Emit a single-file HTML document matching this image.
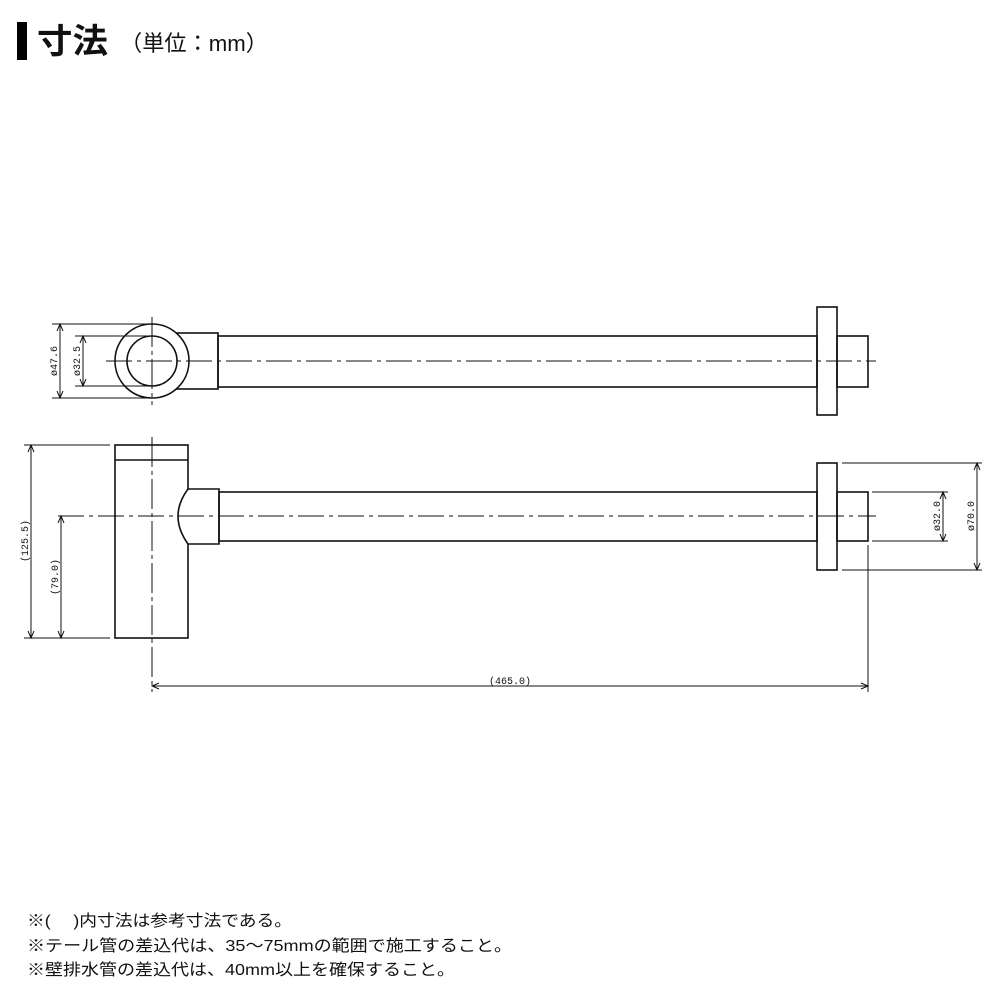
<!DOCTYPE html>
<html><head><meta charset="utf-8"><style>
html,body{margin:0;padding:0;background:#fff;width:1000px;height:1000px;overflow:hidden}
svg{display:block}
</style></head><body>
<svg width="1000" height="1000" viewBox="0 0 1000 1000" xmlns="http://www.w3.org/2000/svg">
<rect x="17" y="22" width="10" height="38" fill="#000"/>
<text x="37" y="53" font-family="'Liberation Sans','Noto Sans CJK JP',sans-serif" font-size="34" font-weight="bold" fill="#111" textLength="71" lengthAdjust="spacingAndGlyphs">寸法</text>
<text x="120" y="51" font-family="'Liberation Sans','Noto Sans CJK JP',sans-serif" font-size="22" fill="#111" textLength="148" lengthAdjust="spacingAndGlyphs">（単位：mm）</text>

<g fill="none" stroke="#111" stroke-width="1.6">
<rect x="175" y="333" width="43" height="56" fill="#fff"/>
<rect x="218" y="336" width="599" height="51"/>
<circle cx="152" cy="361" r="37" fill="#fff"/>
<circle cx="152" cy="361" r="25"/>
<rect x="817" y="307" width="20" height="108"/>
<rect x="837" y="336" width="31" height="51"/>
<rect x="115" y="445" width="73" height="193"/>
<line x1="115" y1="460" x2="188" y2="460"/>
<path d="M188 489 L219 489 L219 544 L188 544 Q168 516 188 489 Z" fill="#fff"/>
<rect x="219" y="492" width="598" height="49"/>
<rect x="817" y="463" width="20" height="107"/>
<rect x="837" y="492" width="31" height="49"/>
</g>

<g stroke="#111" stroke-width="1" fill="none">
<line x1="106" y1="361" x2="876" y2="361" stroke-dasharray="26,5,4,5"/>
<line x1="152" y1="317" x2="152" y2="405" stroke-dasharray="30,4,4,4"/>
<line x1="58" y1="516" x2="876" y2="516" stroke-dasharray="26,5,4,5"/>
<line x1="152" y1="437" x2="152" y2="692" stroke-dasharray="30,4,4,4"/>
<line x1="52" y1="324" x2="150" y2="324"/>
<line x1="52" y1="398" x2="150" y2="398"/>
<line x1="60" y1="324" x2="60" y2="398"/>
<line x1="75" y1="336" x2="150" y2="336"/>
<line x1="75" y1="386" x2="150" y2="386"/>
<line x1="83" y1="336" x2="83" y2="386"/>
<path d="M57 331 L60 324 L63 331 M57 391 L60 398 L63 391 M80 343 L83 336 L86 343 M80 379 L83 386 L86 379"/>
<line x1="24" y1="445" x2="110" y2="445"/>
<line x1="24" y1="638" x2="110" y2="638"/>
<line x1="31" y1="445" x2="31" y2="638"/>
<line x1="61" y1="516" x2="61" y2="638"/>
<path d="M28 452 L31 445 L34 452 M28 631 L31 638 L34 631 M58 523 L61 516 L64 523 M58 631 L61 638 L64 631"/>
<line x1="842" y1="463" x2="982" y2="463"/>
<line x1="842" y1="570" x2="982" y2="570"/>
<line x1="977" y1="463" x2="977" y2="570"/>
<line x1="872" y1="492" x2="948" y2="492"/>
<line x1="872" y1="541" x2="948" y2="541"/>
<line x1="943" y1="492" x2="943" y2="541"/>
<path d="M974 470 L977 463 L980 470 M974 563 L977 570 L980 563 M940 499 L943 492 L946 499 M940 534 L943 541 L946 534"/>
<line x1="868" y1="545" x2="868" y2="692"/>
<line x1="152" y1="686" x2="868" y2="686"/>
<path d="M159 683 L152 686 L159 689 M861 683 L868 686 L861 689"/>
</g>

<g font-family="'Liberation Mono',monospace" font-size="10" fill="#111">
<text transform="translate(57,361) rotate(-90)" text-anchor="middle">ø47.6</text>
<text transform="translate(80,361) rotate(-90)" text-anchor="middle">ø32.5</text>
<text transform="translate(28,541) rotate(-90)" text-anchor="middle">(125.5)</text>
<text transform="translate(58,577) rotate(-90)" text-anchor="middle">(79.0)</text>
<text transform="translate(940,516) rotate(-90)" text-anchor="middle">ø32.0</text>
<text transform="translate(974,516) rotate(-90)" text-anchor="middle">ø70.0</text>
<text x="510" y="684" text-anchor="middle">(465.0)</text>
</g>

<g font-family="'Liberation Sans','Noto Sans CJK JP',sans-serif" font-size="16" fill="#111">
<text x="27" y="926" textLength="265" lengthAdjust="spacingAndGlyphs">※(　 )内寸法は参考寸法である。</text>
<text x="27" y="951" textLength="485" lengthAdjust="spacingAndGlyphs">※テール管の差込代は、35～75mmの範囲で施工すること。</text>
<text x="27" y="975" textLength="428" lengthAdjust="spacingAndGlyphs">※壁排水管の差込代は、40mm以上を確保すること。</text>
</g>
</svg>
</body></html>
